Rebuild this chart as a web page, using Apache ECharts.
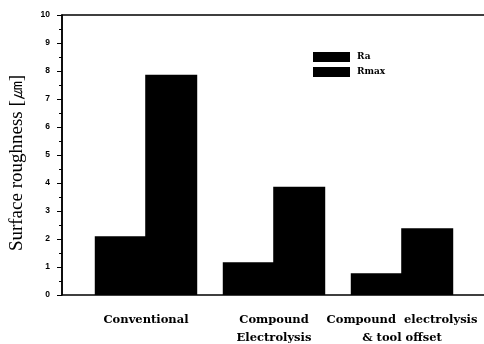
<!DOCTYPE html>
<html><head><meta charset="utf-8">
<script src="https://cdn.jsdelivr.net/npm/echarts@6/dist/echarts.min.js"></script>
<style>html,body{margin:0;padding:0;background:#fff}#c{width:484px;height:344px}</style>
</head><body><div id="c"></div>
<script>
const categories = ['Conventional', 'Compound\nElectrolysis', 'Compound  electrolysis\n& tool offset'];
const raValues = [2.1, 1.17, 0.78];
const rmaxValues = [7.87, 3.87, 2.38];
const yTicks = [0, 1, 2, 3, 4, 5, 6, 7, 8, 9, 10];

const chart = echarts.init(document.getElementById('c'), null, {renderer: 'canvas'});
chart.setOption({
  animation: false,
  backgroundColor: '#fff',
  grid: [
    {left: 82, right: 18, top: 15, bottom: 49, outerBoundsMode: 'none', containLabel: false},
    {left: 62, right: -3, top: 15, bottom: 49, outerBoundsMode: 'none', containLabel: false, show: true, borderColor: '#000', borderWidth: 1.5, backgroundColor: 'transparent', z: 0}
  ],
  legend: {
    orient: 'vertical', left: 308, top: 47, itemWidth: 37, itemHeight: 10, itemGap: 5,
    icon: 'rect',
    textStyle: {fontFamily: 'DejaVu Serif', fontWeight: 'bold', fontSize: 9, color: '#000', padding: [0,0,0,2]},
    data: ['Ra', 'Rmax']
  },
  xAxis: [
    {type: 'category', gridIndex: 0, data: categories,
     axisLine: {show: false}, axisTick: {show: false},
     axisLabel: {interval: 0, margin: 16, fontFamily: 'DejaVu Serif', fontWeight: 'bold', fontSize: 11.5, color: '#000', lineHeight: 18}},
    {type: 'value', gridIndex: 1, show: false}
  ],
  yAxis: [
    {type: 'value', gridIndex: 0, min: 0, max: 10, interval: 1, offset: 20,
     name: 'Surface roughness [㎛]', nameLocation: 'middle', nameGap: 35,
     nameTextStyle: {fontFamily: 'Liberation Serif', fontSize: 19, color: '#000', padding: [0, 16, 0, 0]},
     axisLine: {show: true, lineStyle: {color: '#000', width: 1.5}},
     axisTick: {show: true, inside: false, length: 5, lineStyle: {color: '#000'}},
     minorTick: {show: true, splitNumber: 2, length: 3, lineStyle: {color: '#000'}},
     splitLine: {show: false},
     axisLabel: {margin: 12, fontFamily: 'Liberation Sans', fontWeight: 'bold', fontSize: 8.5, color: '#000',
       formatter: v => yTicks.includes(v) ? String(v) : ''}},
    {type: 'value', gridIndex: 1, show: false}
  ],
  series: [
    {name: 'Ra', type: 'bar', data: raValues, barWidth: 52, barGap: '-3%', itemStyle: {color: '#000'}},
    {name: 'Rmax', type: 'bar', data: rmaxValues, barWidth: 52, barGap: '-3%', itemStyle: {color: '#000'}}
  ]
});
</script></body></html>
